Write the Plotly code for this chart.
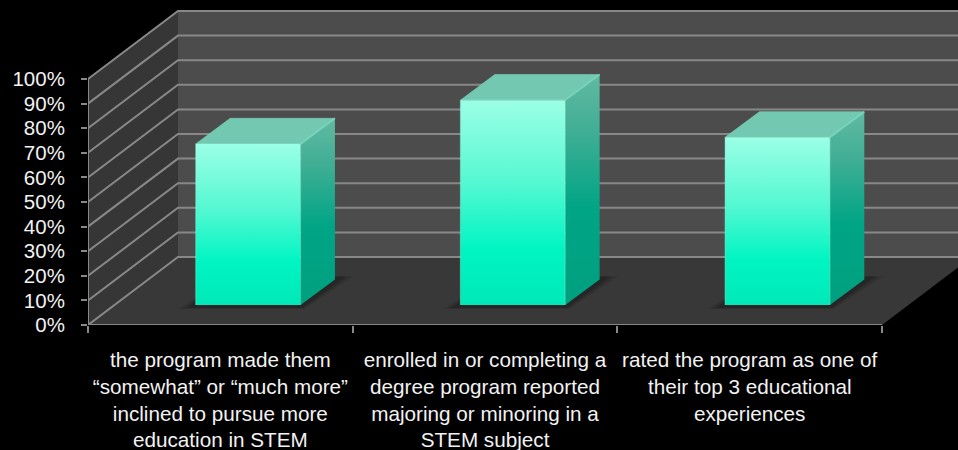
import plotly.graph_objects as go

# Chart content
categories = [
    "the program made them<br>“somewhat” or “much more”<br>inclined to pursue more<br>education in STEM",
    "enrolled in or completing a<br>degree program reported<br>majoring or minoring in a<br>STEM subject",
    "rated the program as one of<br>their top 3 educational<br>experiences",
]
percent_values = [65.5, 83.3, 68.2]
percent_ticks = [0, 10, 20, 30, 40, 50, 60, 70, 80, 90, 100]
percent_labels = ["0%", "10%", "20%", "30%", "40%", "50%", "60%", "70%", "80%", "90%", "100%"]

# Oblique projection of the chart box, in axis units
WALL_DX, WALL_DY = 0.34, 27.64
BAR_WIDTH = 0.396
BAR_FRONT_DX, BAR_FRONT_DY = 0.105, 8.1
BAR_DEPTH_DX, BAR_DEPTH_DY = 0.130, 10.4

X_MAX = 3.287
Y_MAX = 132.1

GRID = "#888888"


def polygon(xs, ys, color=None, gradient=None):
    trace = dict(
        x=list(xs) + [xs[0]], y=list(ys) + [ys[0]], mode="lines", fill="toself",
        line=dict(width=0), hoverinfo="skip", showlegend=False,
    )
    if gradient:
        trace["fillgradient"] = dict(type="vertical", colorscale=gradient)
    else:
        trace["fillcolor"] = color
    return go.Scatter(**trace)


def stroke(xs, ys, color=GRID, width=2.0):
    return go.Scatter(
        x=xs, y=ys, mode="lines", line=dict(color=color, width=width),
        hoverinfo="skip", showlegend=False, cliponaxis=False,
    )


fig = go.Figure()

# Back wall, side wall and floor
fig.add_trace(polygon([WALL_DX, X_MAX, X_MAX, WALL_DX],
                      [WALL_DY, WALL_DY, 100 + WALL_DY, 100 + WALL_DY], "#4c4c4c"))
fig.add_trace(polygon([0, WALL_DX, WALL_DX, 0],
                      [0, WALL_DY, 100 + WALL_DY, 100], "#363636"))
fig.add_trace(polygon([0, 3, 3 + WALL_DX, WALL_DX],
                      [0, 0, WALL_DY, WALL_DY], "#383838"))

# Gridlines wrap from the side wall onto the back wall
for tick in percent_ticks:
    fig.add_trace(stroke([0, WALL_DX, X_MAX],
                         [tick, tick + WALL_DY, tick + WALL_DY]))

# Axis lines
fig.add_trace(stroke([0, 0], [0, 100]))
fig.add_trace(stroke([0, 3], [0, 0]))

# Bars, drawn as box faces projected from each value
for index, value in enumerate(percent_values):
    left = index + 0.5 - BAR_WIDTH / 2 + BAR_FRONT_DX
    right = left + BAR_WIDTH
    base = BAR_FRONT_DY
    top = BAR_FRONT_DY + value
    back_right = right + BAR_DEPTH_DX
    back_left = left + BAR_DEPTH_DX

    # Soft contact shadow on the floor
    for grow, alpha in ((0.05, 0.12), (0.035, 0.18), (0.02, 0.25)):
        fig.add_trace(polygon(
            [left - grow - 0.015, right + grow * 0.3, back_right + grow + 0.02, back_left],
            [base - 1.0 - grow * 10, base - 1.0 - grow * 10,
             base + BAR_DEPTH_DY + 1.2, base + BAR_DEPTH_DY + 1.2],
            f"rgba(20,20,20,{alpha})",
        ))

    # Side face
    fig.add_trace(polygon(
        [right, back_right, back_right, right],
        [base, base + BAR_DEPTH_DY, top + BAR_DEPTH_DY, top],
        gradient=[[0, "#00a07f"], [0.42, "#00a586"], [0.75, "#3fae94"], [1, "#62b9a2"]],
    ))
    # Top face
    fig.add_trace(polygon(
        [left, right, back_right, back_left],
        [top, top, top + BAR_DEPTH_DY, top + BAR_DEPTH_DY],
        "#72c8b0",
    ))
    # Front face
    fig.add_trace(polygon(
        [left, right, right, left],
        [base, base, top, top],
        gradient=[[0, "#00e8b8"], [0.27, "#00f5c3"], [0.6, "#55f8d2"], [1, "#9cffe6"]],
    ))
    # Bevel highlights along the box edges
    fig.add_trace(stroke([left, left, right, right], [base, top, top, base],
                         "rgba(150,255,225,0.35)", 1.2))
    fig.add_trace(stroke([right, back_right], [top, top + BAR_DEPTH_DY],
                         "rgba(125,220,195,0.8)", 1.8))
    fig.add_trace(stroke([left, back_left, back_right],
                         [top, top + BAR_DEPTH_DY, top + BAR_DEPTH_DY],
                         "rgba(120,210,185,0.6)", 1.0))

fig.update_layout(
    width=958, height=450, autosize=False,
    margin=dict(l=88, r=0, t=0, b=125),
    paper_bgcolor="#000000", plot_bgcolor="#000000",
    showlegend=False,
    font=dict(family="Liberation Sans, Arial, sans-serif", size=20, color="#f2f2f2"),
    xaxis=dict(
        range=[0, X_MAX], showgrid=False, zeroline=False, showline=False,
        automargin=False,
        tickmode="array", tickvals=[0.5, 1.5, 2.5], ticktext=categories,
        ticks="", tickangle=0, ticklabelstandoff=20, tickfont=dict(size=20.7),
        minor=dict(tickmode="array", tickvals=[0, 1, 2, 3], ticks="outside",
                   ticklen=7, tickwidth=2, tickcolor=GRID, showgrid=False),
    ),
    yaxis=dict(
        range=[0, Y_MAX], showgrid=False, zeroline=False, showline=False,
        automargin=False,
        tickmode="array", tickvals=percent_ticks, ticktext=percent_labels,
        ticks="outside", ticklen=6, tickwidth=2, tickcolor=GRID,
        ticklabelstandoff=12, tickfont=dict(size=20.5),
    ),
)

fig.write_html("out.html")
